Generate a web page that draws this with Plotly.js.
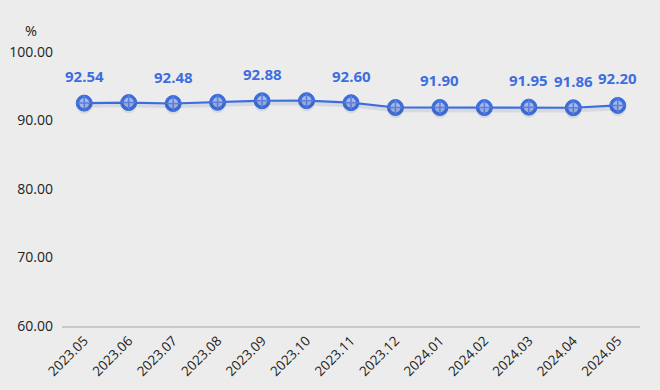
<!DOCTYPE html>
<html><head><meta charset="utf-8">
<script src="https://cdn.plot.ly/plotly-3.0.1.min.js"></script>
<style>html,body{margin:0;padding:0;background:#ececec;}</style>
</head><body>
<div id="chart" style="width:660px;height:390px;"></div>
<script>
const months = ["2023.05","2023.06","2023.07","2023.08","2023.09","2023.10","2023.11","2023.12","2024.01","2024.02","2024.03","2024.04","2024.05"];
const values = [92.54, 92.62, 92.48, 92.66, 92.88, 92.90, 92.60, 91.90, 91.90, 91.88, 91.95, 91.86, 92.20];
const labelShown = [true,false,true,false,true,false,true,false,true,false,true,true,true];
const yTicks = [60,70,80,90,100];
const unit = "%";

const blue = "#3d6ee0";
const font = "Open Sans, Noto Sans, sans-serif";
const idx = months.map((m, i) => i);

const traces = [
  {x: idx, y: values, type: "scatter", mode: "lines+markers", cliponaxis: false,
   line: {color: "rgba(60,80,140,0.12)", width: 4},
   marker: {symbol: "circle", size: 16, color: "rgba(60,80,140,0.12)"},
   yaxis: "y2", hoverinfo: "skip"},
  {x: idx, y: values, type: "scatter", mode: "lines+markers", cliponaxis: false,
   line: {color: blue, width: 2.2},
   marker: {symbol: "circle", size: 16, color: blue, line: {color: blue, width: 1}},
   hoverinfo: "skip"},
  {x: idx, y: values, type: "scatter", mode: "markers", cliponaxis: false,
   marker: {symbol: "circle", size: 10, color: "#b4c6f4", line: {width: 0}},
   hoverinfo: "skip"},
  {x: idx, y: values, type: "scatter", mode: "markers", cliponaxis: false,
   marker: {symbol: "cross-thin", size: 10, color: blue, line: {color: "#5f86e8", width: 1.5}},
   hoverinfo: "skip"}
];

const annotations = idx.filter(i => labelShown[i]).map(i => ({
  x: i, y: values[i], xref: "x", yref: "y", text: values[i].toFixed(2), showarrow: false,
  yshift: 27, font: {family: font, size: 15, color: blue, weight: "bold"}
}));
const plotW = 660 - 62 - 20, plotH = 390 - 52 - 64;
annotations.push({x: (23 - 62) / plotW, y: 1 + (52 - 19) / plotH, xref: "paper", yref: "paper",
  text: unit, showarrow: false, font: {family: font, size: 14.5, color: "#222"}});

const layout = {
  width: 660, height: 390,
  paper_bgcolor: "#ececec", plot_bgcolor: "#ececec",
  margin: {l: 62, r: 20, t: 52, b: 64},
  showlegend: false,
  font: {family: font, size: 13, color: "#222"},
  xaxis: {range: [-0.5, 12.5], tickmode: "array", tickvals: idx, ticktext: months, tickangle: -45,
    showgrid: false, zeroline: false, showline: true, linecolor: "#c8c8c8", linewidth: 1.5, ticks: "",
    tickfont: {size: 13.5, color: "#222"}},
  yaxis: {range: [60, 100], tickvals: yTicks, tickformat: ".2f", showgrid: false, zeroline: false,
    showline: false, ticks: "", ticklabelstandoff: 8, tickfont: {size: 14, color: "#222"}},
  yaxis2: {range: [60.4, 100.4], overlaying: "y", visible: false},
  annotations: annotations
};

Plotly.newPlot("chart", traces, layout, {displayModeBar: false, staticPlot: true});
</script>
</body></html>
